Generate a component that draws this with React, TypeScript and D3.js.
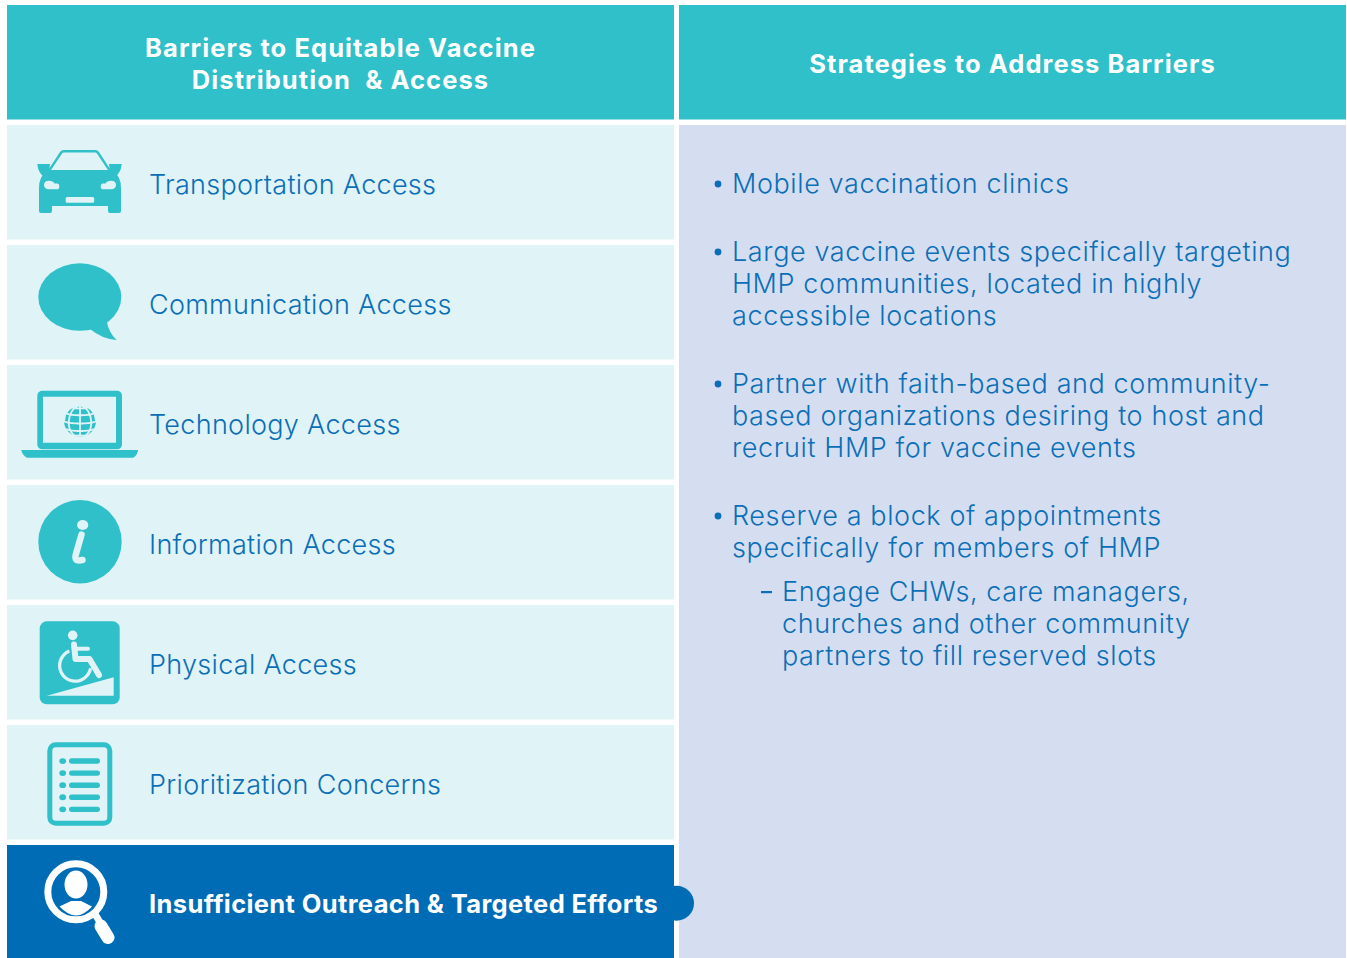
import React from "react";
import * as d3 from "d3";

const WIDTH = 1347;
const HEIGHT = 958;

const headers = [
  ["Barriers to Equitable Vaccine", "Distribution  & Access"],
  ["Strategies to Address Barriers"],
];

const barriers = [
  "Transportation Access",
  "Communication Access",
  "Technology Access",
  "Information Access",
  "Physical Access",
  "Prioritization Concerns",
  "Insufficient Outreach & Targeted Efforts",
];

const strategies = [
  { level: 0, lines: ["Mobile vaccination clinics"] },
  {
    level: 0,
    lines: [
      "Large vaccine events specifically targeting",
      "HMP communities, located in highly",
      "accessible locations",
    ],
  },
  {
    level: 0,
    lines: [
      "Partner with faith-based and community-",
      "based organizations desiring to host and",
      "recruit HMP for vaccine events",
    ],
  },
  {
    level: 0,
    lines: ["Reserve a block of appointments", "specifically for members of HMP"],
  },
  {
    level: 1,
    lines: [
      "Engage CHWs, care managers,",
      "churches and other community",
      "partners to fill reserved slots",
    ],
  },
];

const TEAL = "#2fc0c9";
const PALE = "#e0f3f6";
const LAVENDER = "#d5def0";
const BLUE = "#006cb6";
const TEXT_BLUE = "#0b6fb8";
const FONT = "Inter, 'Noto Sans', sans-serif";

const columns = d3.scaleBand<number>().domain([0, 1]).range([7, 1346]).paddingInner(5 / 672);
const rows = d3
  .scaleBand<string>()
  .domain(barriers)
  .range([125, 959.5])
  .paddingInner(5.5 / 120);

function CarIcon() {
  return (
    <g fill={TEAL}>
      <path d="M-33,-10 L-20,-30 Q-19,-32 -16,-32 L15,-32 Q18,-32 19,-30 L32,-10 Z" />
      <path d="M-29,-12 L-18,-28.5 Q-17.5,-29.5 -16,-29.5 L15,-29.5 Q16.5,-29.5 17,-28.5 L28,-12 Z" fill={PALE} />
      <path d="M-42.7,-18 L-30,-18 L-31,-10 L-37,-6 Q-42,-10 -42.7,-18 Z" />
      <path d="M41.7,-18 L29,-18 L30,-10 L36,-6 Q41,-10 41.7,-18 Z" />
      <path d="M-33,-10 L33,-10 Q41,-6 41,6 L41,29 Q41,31 39,31 L30,31 Q28,31 28,29 L28,24 L-28,24 L-28,29 Q-28,31 -30,31 L-39,31 Q-41,31 -41,29 L-41,6 Q-41,-6 -33,-10 Z" />
      <path d="M-36,3 Q-36,-1.3 -31,-1.3 Q-27,-1.3 -25.5,1.5 L-23,1.5 Q-20.7,1.5 -20.7,4.5 Q-20.7,7.3 -23,7.3 L-31,7.3 Q-36,7 -36,3 Z" fill={PALE} />
      <path d="M36,3 Q36,-1.3 31,-1.3 Q27,-1.3 25.5,1.5 L23,1.5 Q20.7,1.5 20.7,4.5 Q20.7,7.3 23,7.3 L31,7.3 Q36,7 36,3 Z" fill={PALE} />
      <rect x={-14.3} y={15} width={28.5} height={5.7} rx={1.5} fill={PALE} />
    </g>
  );
}

function BubbleIcon() {
  return (
    <g fill={TEAL}>
      <ellipse cx={-0.2} cy={-5} rx={41.5} ry={33.7} />
      <path d="M26.7,18 Q28,30 36.7,38 Q22,37 10,27 Z" />
    </g>
  );
}

function LaptopIcon() {
  const projection = d3.geoOrthographic().scale(16).translate([0, -1.3]).rotate([0, -10]);
  const path = d3.geoPath(projection);
  const graticule = d3.geoGraticule().step([45, 30])();
  return (
    <g>
      <rect x={-42.7} y={-31.3} width={84.7} height={58.6} rx={5} fill={TEAL} />
      <rect x={-37} y={-25.3} width={73} height={46} fill={PALE} />
      <path d="M-58.7,28 L58,28 Q58,33 53,35.7 L-53,35.7 Q-58,33 -58.7,28 Z" fill={TEAL} />
      <circle cx={0} cy={-1.3} r={16} fill={TEAL} />
      <path d={path(graticule) ?? ""} fill="none" stroke={PALE} strokeWidth={1.8} />
    </g>
  );
}

function InfoIcon() {
  return (
    <g>
      <circle cx={0} cy={-0.3} r={41.7} fill={TEAL} />
      <ellipse cx={2.7} cy={-17} rx={5.6} ry={5} fill={PALE} />
      <path d="M1.5,-7.5 L-4.5,13.5 Q-5.5,18.5 -1,18.5 L2.5,18" fill="none" stroke={PALE} strokeWidth={6.5} strokeLinecap="round" />
    </g>
  );
}

function PhysicalIcon() {
  const wheel = d3.arc()({
    innerRadius: 14,
    outerRadius: 17.2,
    startAngle: (100 * Math.PI) / 180,
    endAngle: (338 * Math.PI) / 180,
  });
  return (
    <g>
      <rect x={-40.3} y={-40.7} width={80} height={83} rx={7} fill={TEAL} />
      <path d="M-33.3,33.7 L33.7,15.3 L33.7,33.7 Z" fill={PALE} />
      <circle cx={-7.3} cy={-26.7} r={4.8} fill={PALE} />
      <path d="M-6,-17.5 L-4.5,-3 L9.5,-3 L19,13" fill="none" stroke={PALE} strokeWidth={6} strokeLinejoin="round" strokeLinecap="round" />
      <path d="M-5,-13.2 L8,-13.2" stroke={PALE} strokeWidth={4} strokeLinecap="round" />
      <path d={wheel ?? ""} transform="translate(-4.8,3.5)" fill={PALE} />
    </g>
  );
}

function ListIcon() {
  const slots = d3.range(5);
  const y = d3.scaleLinear().domain([0, 4]).range([-21, 27.3]);
  return (
    <g fill={TEAL}>
      <rect x={-30.2} y={-37.2} width={60} height={78.4} rx={6} fill="none" stroke={TEAL} strokeWidth={5} />
      {slots.map((i) => (
        <g key={i}>
          <ellipse cx={-17.3} cy={y(i)} rx={3.4} ry={2.9} />
          <rect x={-11} y={y(i) - 2.7} width={31} height={5.4} rx={2.7} />
        </g>
      ))}
    </g>
  );
}

function SearchIcon() {
  return (
    <g fill="#fff">
      <circle cx={-4.2} cy={-10.2} r={28} fill="none" stroke="#fff" strokeWidth={7} />
      <ellipse cx={-4} cy={-17.5} rx={11.5} ry={14} />
      <path d="M-20.5,4.5 L-9,-1 L1,-1 L12,4.5 Q4,13.5 -4,13.5 Q-12,13.5 -20.5,4.5 Z" />
      <path d="M15,12 L21,22" stroke="#fff" strokeWidth={7} />
      <path d="M21,24 L28,35.5" stroke="#fff" strokeWidth={13} strokeLinecap="round" />
    </g>
  );
}

const icons = [CarIcon, BubbleIcon, LaptopIcon, InfoIcon, PhysicalIcon, ListIcon, SearchIcon];

// walks the blocks down the right column, gap depends on what follows
function layoutStrategies() {
  const out: { text: string; y: number; level: number; first: boolean }[] = [];
  let y = 184;
  strategies.forEach((block, b) => {
    if (b > 0) y += block.level === 1 ? 44 : 68;
    block.lines.forEach((text, i) => {
      if (i > 0) y += 32;
      out.push({ text, y, level: block.level, first: i === 0 });
    });
  });
  return out;
}

export default function App() {
  const colW = columns.bandwidth();
  const leftX = columns(0) as number;
  const rightX = columns(1) as number;
  const lastRow = rows(barriers[6]) as number;
  const lastMid = lastRow + rows.bandwidth() / 2;
  const lines = layoutStrategies();

  return (
    <svg
      width={WIDTH}
      height={HEIGHT}
      style={{ position: "absolute", top: 0, left: 0, background: "#fff" }}
      fontFamily={FONT}
    >
      {[leftX, rightX].map((x, i) => (
        <g key={i}>
          <rect x={x} y={5} width={colW} height={114.5} fill={TEAL} />
          {headers[i].map((line, j) => (
            <text
              key={j}
              x={x + colW / 2}
              y={64 + (j - (headers[i].length - 1) / 2) * 32}
              dy="0.35em"
              textAnchor="middle"
              fontSize={25.5}
              fontWeight={700}
              letterSpacing={1.08}
              fill="#fff"
              xmlSpace="preserve"
            >
              {line}
            </text>
          ))}
        </g>
      ))}

      <rect x={rightX} y={125} width={colW} height={HEIGHT - 125} fill={LAVENDER} />

      {barriers.map((name, i) => {
        const y = rows(name) as number;
        const mid = y + rows.bandwidth() / 2;
        const Icon = icons[i];
        const last = i === barriers.length - 1;
        return (
          <g key={name}>
            <rect x={leftX} y={y} width={colW} height={rows.bandwidth()} fill={last ? BLUE : PALE} />
            <g transform={`translate(80,${mid - 0.2})`}>
              <Icon />
            </g>
            <text
              x={149}
              y={mid + 2}
              dy="0.35em"
              fontSize={last ? 25.5 : 27}
              fontWeight={last ? 700 : 350}
              letterSpacing={last ? 0.37 : 0.3}
              fill={last ? "#fff" : TEXT_BLUE}
            >
              {name}
            </text>
          </g>
        );
      })}

      {/* tab joining the last barrier to the strategies column */}
      <circle cx={676.6} cy={lastMid + 1} r={17.4} fill={BLUE} />

      {lines.map((d) => {
        const x = d.level === 0 ? 732 : 782;
        return (
          <g key={d.text}>
            {d.first && d.level === 0 && <circle cx={718} cy={d.y} r={3.4} fill={TEXT_BLUE} />}
            {d.first && d.level === 1 && (
              <rect x={761} y={d.y - 1} width={11} height={2.2} fill={TEXT_BLUE} />
            )}
            <text x={x} y={d.y} dy="0.35em" fontSize={27} fontWeight={350} letterSpacing={0.6} fill={TEXT_BLUE}>
              {d.text}
            </text>
          </g>
        );
      })}
    </svg>
  );
}
